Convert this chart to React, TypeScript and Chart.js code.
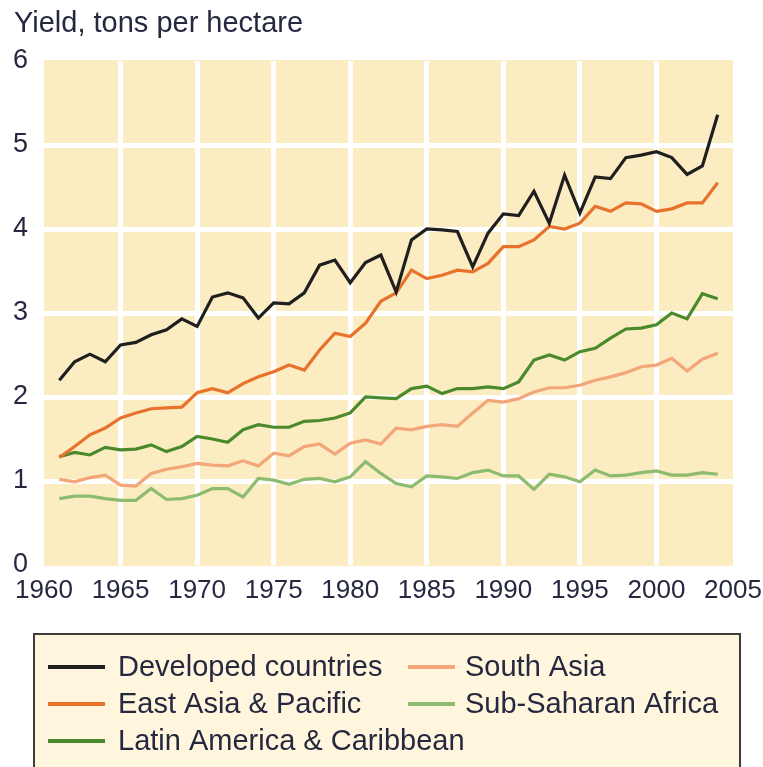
import React, { useEffect, useRef } from "react";
import { Chart, registerables } from "chart.js";

Chart.register(...registerables);

const TITLE = "Yield, tons per hectare";
const YEARS = [
  1961, 1962, 1963, 1964, 1965, 1966, 1967, 1968, 1969, 1970,
  1971, 1972, 1973, 1974, 1975, 1976, 1977, 1978, 1979, 1980,
  1981, 1982, 1983, 1984, 1985, 1986, 1987, 1988, 1989, 1990,
  1991, 1992, 1993, 1994, 1995, 1996, 1997, 1998, 1999, 2000,
  2001, 2002, 2003, 2004,
];
const X_TICKS = [1960, 1965, 1970, 1975, 1980, 1985, 1990, 1995, 2000, 2005];
const Y_TICKS = [0, 1, 2, 3, 4, 5, 6];

const DEVELOPED = [
  2.2, 2.42, 2.51, 2.42, 2.62, 2.65, 2.74, 2.8, 2.93, 2.84,
  3.19, 3.24, 3.18, 2.94, 3.12, 3.11, 3.24, 3.57, 3.63, 3.36,
  3.6, 3.69, 3.25, 3.87, 4.0, 3.99, 3.97, 3.55, 3.95, 4.18,
  4.16, 4.45, 4.07, 4.64, 4.19, 4.62, 4.6, 4.85, 4.88, 4.92,
  4.85, 4.65, 4.75, 5.36,
];
const EAST_ASIA = [
  1.28, 1.41, 1.55, 1.63, 1.75, 1.81, 1.86, 1.87, 1.88, 2.05,
  2.1, 2.05, 2.16, 2.24, 2.3, 2.38, 2.32, 2.56, 2.76, 2.72,
  2.88, 3.14, 3.24, 3.51, 3.41, 3.45, 3.51, 3.49, 3.59, 3.79,
  3.79, 3.87, 4.03, 4.0, 4.07, 4.27, 4.21, 4.31, 4.3, 4.21,
  4.24, 4.31, 4.31, 4.55,
];
const LATIN_AMERICA = [
  1.29, 1.34, 1.31, 1.4, 1.37, 1.38, 1.43, 1.35, 1.41, 1.53,
  1.5, 1.46, 1.61, 1.67, 1.64, 1.64, 1.71, 1.72, 1.75, 1.81,
  2.0, 1.99, 1.98, 2.1, 2.13, 2.04, 2.1, 2.1, 2.12, 2.1,
  2.18, 2.44, 2.5, 2.44, 2.54, 2.58, 2.7, 2.81, 2.82, 2.86,
  3.0, 2.93, 3.23, 3.17,
];
const SOUTH_ASIA = [
  1.02, 0.99, 1.04, 1.07, 0.95, 0.94, 1.09, 1.14, 1.17, 1.21,
  1.19, 1.18, 1.24, 1.18, 1.33, 1.3, 1.41, 1.44, 1.32, 1.45,
  1.49, 1.44, 1.63, 1.61, 1.65, 1.67, 1.65, 1.81, 1.96, 1.94,
  1.98, 2.06, 2.11, 2.11, 2.14, 2.2, 2.24, 2.29, 2.36, 2.38,
  2.46, 2.31, 2.45, 2.52,
];
const SUB_SAHARAN = [
  0.79, 0.82, 0.82, 0.79, 0.77, 0.77, 0.91, 0.78, 0.79, 0.83,
  0.91, 0.91, 0.81, 1.03, 1.01, 0.96, 1.02, 1.03, 0.99, 1.05,
  1.23, 1.09, 0.97, 0.93, 1.06, 1.05, 1.03, 1.1, 1.13, 1.06,
  1.06, 0.9, 1.08, 1.05, 0.99, 1.13, 1.06, 1.07, 1.1, 1.12,
  1.07, 1.07, 1.1, 1.08,
];

const SERIES_LABELS = [
  "Developed countries",
  "East Asia & Pacific",
  "Latin America & Caribbean",
  "South Asia",
  "Sub-Saharan Africa",
];
const SERIES_VALUES = [DEVELOPED, EAST_ASIA, LATIN_AMERICA, SOUTH_ASIA, SUB_SAHARAN];
const SERIES_COLORS = ["#1f1f1f", "#e8722c", "#4a8a2c", "#f2a679", "#8dbb6f"];

const TEXT_COLOR = "#25283f";
const PANEL = "#fcecc1";
const TEXT_FONT = '"Liberation Sans", Arial, sans-serif';

const panelPlugin = {
  id: "panel",
  beforeDraw(chart: any) {
    const { ctx, chartArea } = chart;
    ctx.save();
    ctx.fillStyle = PANEL;
    ctx.fillRect(chartArea.left, chartArea.top - 1, chartArea.right - chartArea.left, chartArea.bottom - chartArea.top + 2);
    ctx.restore();
  },
};

const textPlugin = {
  id: "textAndLegend",
  afterDraw(chart: any) {
    const { ctx } = chart;
    ctx.save();
    // title
    ctx.fillStyle = TEXT_COLOR;
    ctx.font = `29px ${TEXT_FONT}`;
    ctx.textAlign = "left";
    ctx.textBaseline = "alphabetic";
    ctx.fillText(TITLE, 14, 32);

    // legend box
    ctx.fillStyle = "#fff6dd";
    ctx.fillRect(34, 634, 706, 160);
    ctx.strokeStyle = "#3c3c3c";
    ctx.lineWidth = 2;
    ctx.strokeRect(34, 634, 706, 160);

    const slots = [
      { sx: 48, tx: 118, y: 667 },
      { sx: 48, tx: 118, y: 704 },
      { sx: 48, tx: 118, y: 741 },
      { sx: 408, tx: 465, y: 667 },
      { sx: 408, tx: 465, y: 704 },
    ];
    chart.data.datasets.forEach((ds: any, i: number) => {
      const s = slots[i];
      ctx.strokeStyle = ds.borderColor;
      ctx.lineWidth = 4;
      ctx.beginPath();
      ctx.moveTo(s.sx, s.y);
      ctx.lineTo(s.sx + (i < 3 ? 57 : 47), s.y);
      ctx.stroke();
      ctx.fillStyle = TEXT_COLOR;
      ctx.font = `29px ${TEXT_FONT}`;
      ctx.textBaseline = "middle";
      ctx.fillText(ds.label, s.tx, s.y + 1);
    });
    ctx.restore();
  },
};

export default function App() {
  const ref = useRef<HTMLCanvasElement | null>(null);

  useEffect(() => {
    if (!ref.current) return;
    const datasets = SERIES_LABELS.map((label, i) => ({
      label,
      data: YEARS.map((yr, j) => ({ x: yr, y: SERIES_VALUES[i][j] })),
      borderColor: SERIES_COLORS[i],
      backgroundColor: SERIES_COLORS[i],
      borderWidth: 3.2,
      pointRadius: 0,
      tension: 0,
      fill: false,
    }));
    const chart = new Chart(ref.current, {
      type: "line",
      data: { datasets },
      plugins: [panelPlugin, textPlugin],
      options: {
        responsive: false,
        animation: false,
        devicePixelRatio: 1,
        layout: { padding: { left: 13, top: 61, right: 30, bottom: 162 } },
        plugins: { legend: { display: false }, title: { display: false }, tooltip: { enabled: false } },
        scales: {
          x: {
            type: "linear",
            min: X_TICKS[0],
            max: X_TICKS[X_TICKS.length - 1],
            afterBuildTicks: (scale: any) => {
              scale.ticks = X_TICKS.map((v) => ({ value: v }));
            },
            afterFit: (scale: any) => {
              scale.height = 40;
              scale.paddingLeft = 0;
              scale.paddingRight = 0;
            },
            border: { display: false },
            grid: {
              drawTicks: false,
              lineWidth: 5,
              color: (c: any) =>
                c.tick && (c.tick.value === X_TICKS[0] || c.tick.value === X_TICKS[X_TICKS.length - 1])
                  ? "rgba(0,0,0,0)"
                  : "#ffffff",
            },
            ticks: {
              padding: 10,
              color: TEXT_COLOR,
              font: { family: TEXT_FONT, size: 26 },
              maxRotation: 0,
              autoSkip: false,
              callback: (v: any) => String(v),
            },
          },
          y: {
            min: Y_TICKS[0],
            max: Y_TICKS[Y_TICKS.length - 1],
            afterBuildTicks: (scale: any) => {
              scale.ticks = Y_TICKS.map((v) => ({ value: v }));
            },
            afterFit: (scale: any) => {
              scale.width = 31;
              scale.paddingTop = 0;
              scale.paddingBottom = 0;
            },
            border: { display: false },
            grid: {
              drawTicks: false,
              lineWidth: 5,
              color: (c: any) =>
                c.tick && (c.tick.value === Y_TICKS[0] || c.tick.value === Y_TICKS[Y_TICKS.length - 1])
                  ? "rgba(0,0,0,0)"
                  : "#ffffff",
            },
            ticks: {
              crossAlign: "far",
              padding: 0,
              color: TEXT_COLOR,
              font: { family: TEXT_FONT, size: 27 },
              callback: (v: any) => String(v),
            },
          },
        },
      },
    });
    return () => chart.destroy();
  }, []);

  return (
    <div style={{ position: "absolute", left: 0, top: 0, width: 763, height: 767, background: "#ffffff" }}>
      <canvas ref={ref} width={763} height={767} />
    </div>
  );
}
